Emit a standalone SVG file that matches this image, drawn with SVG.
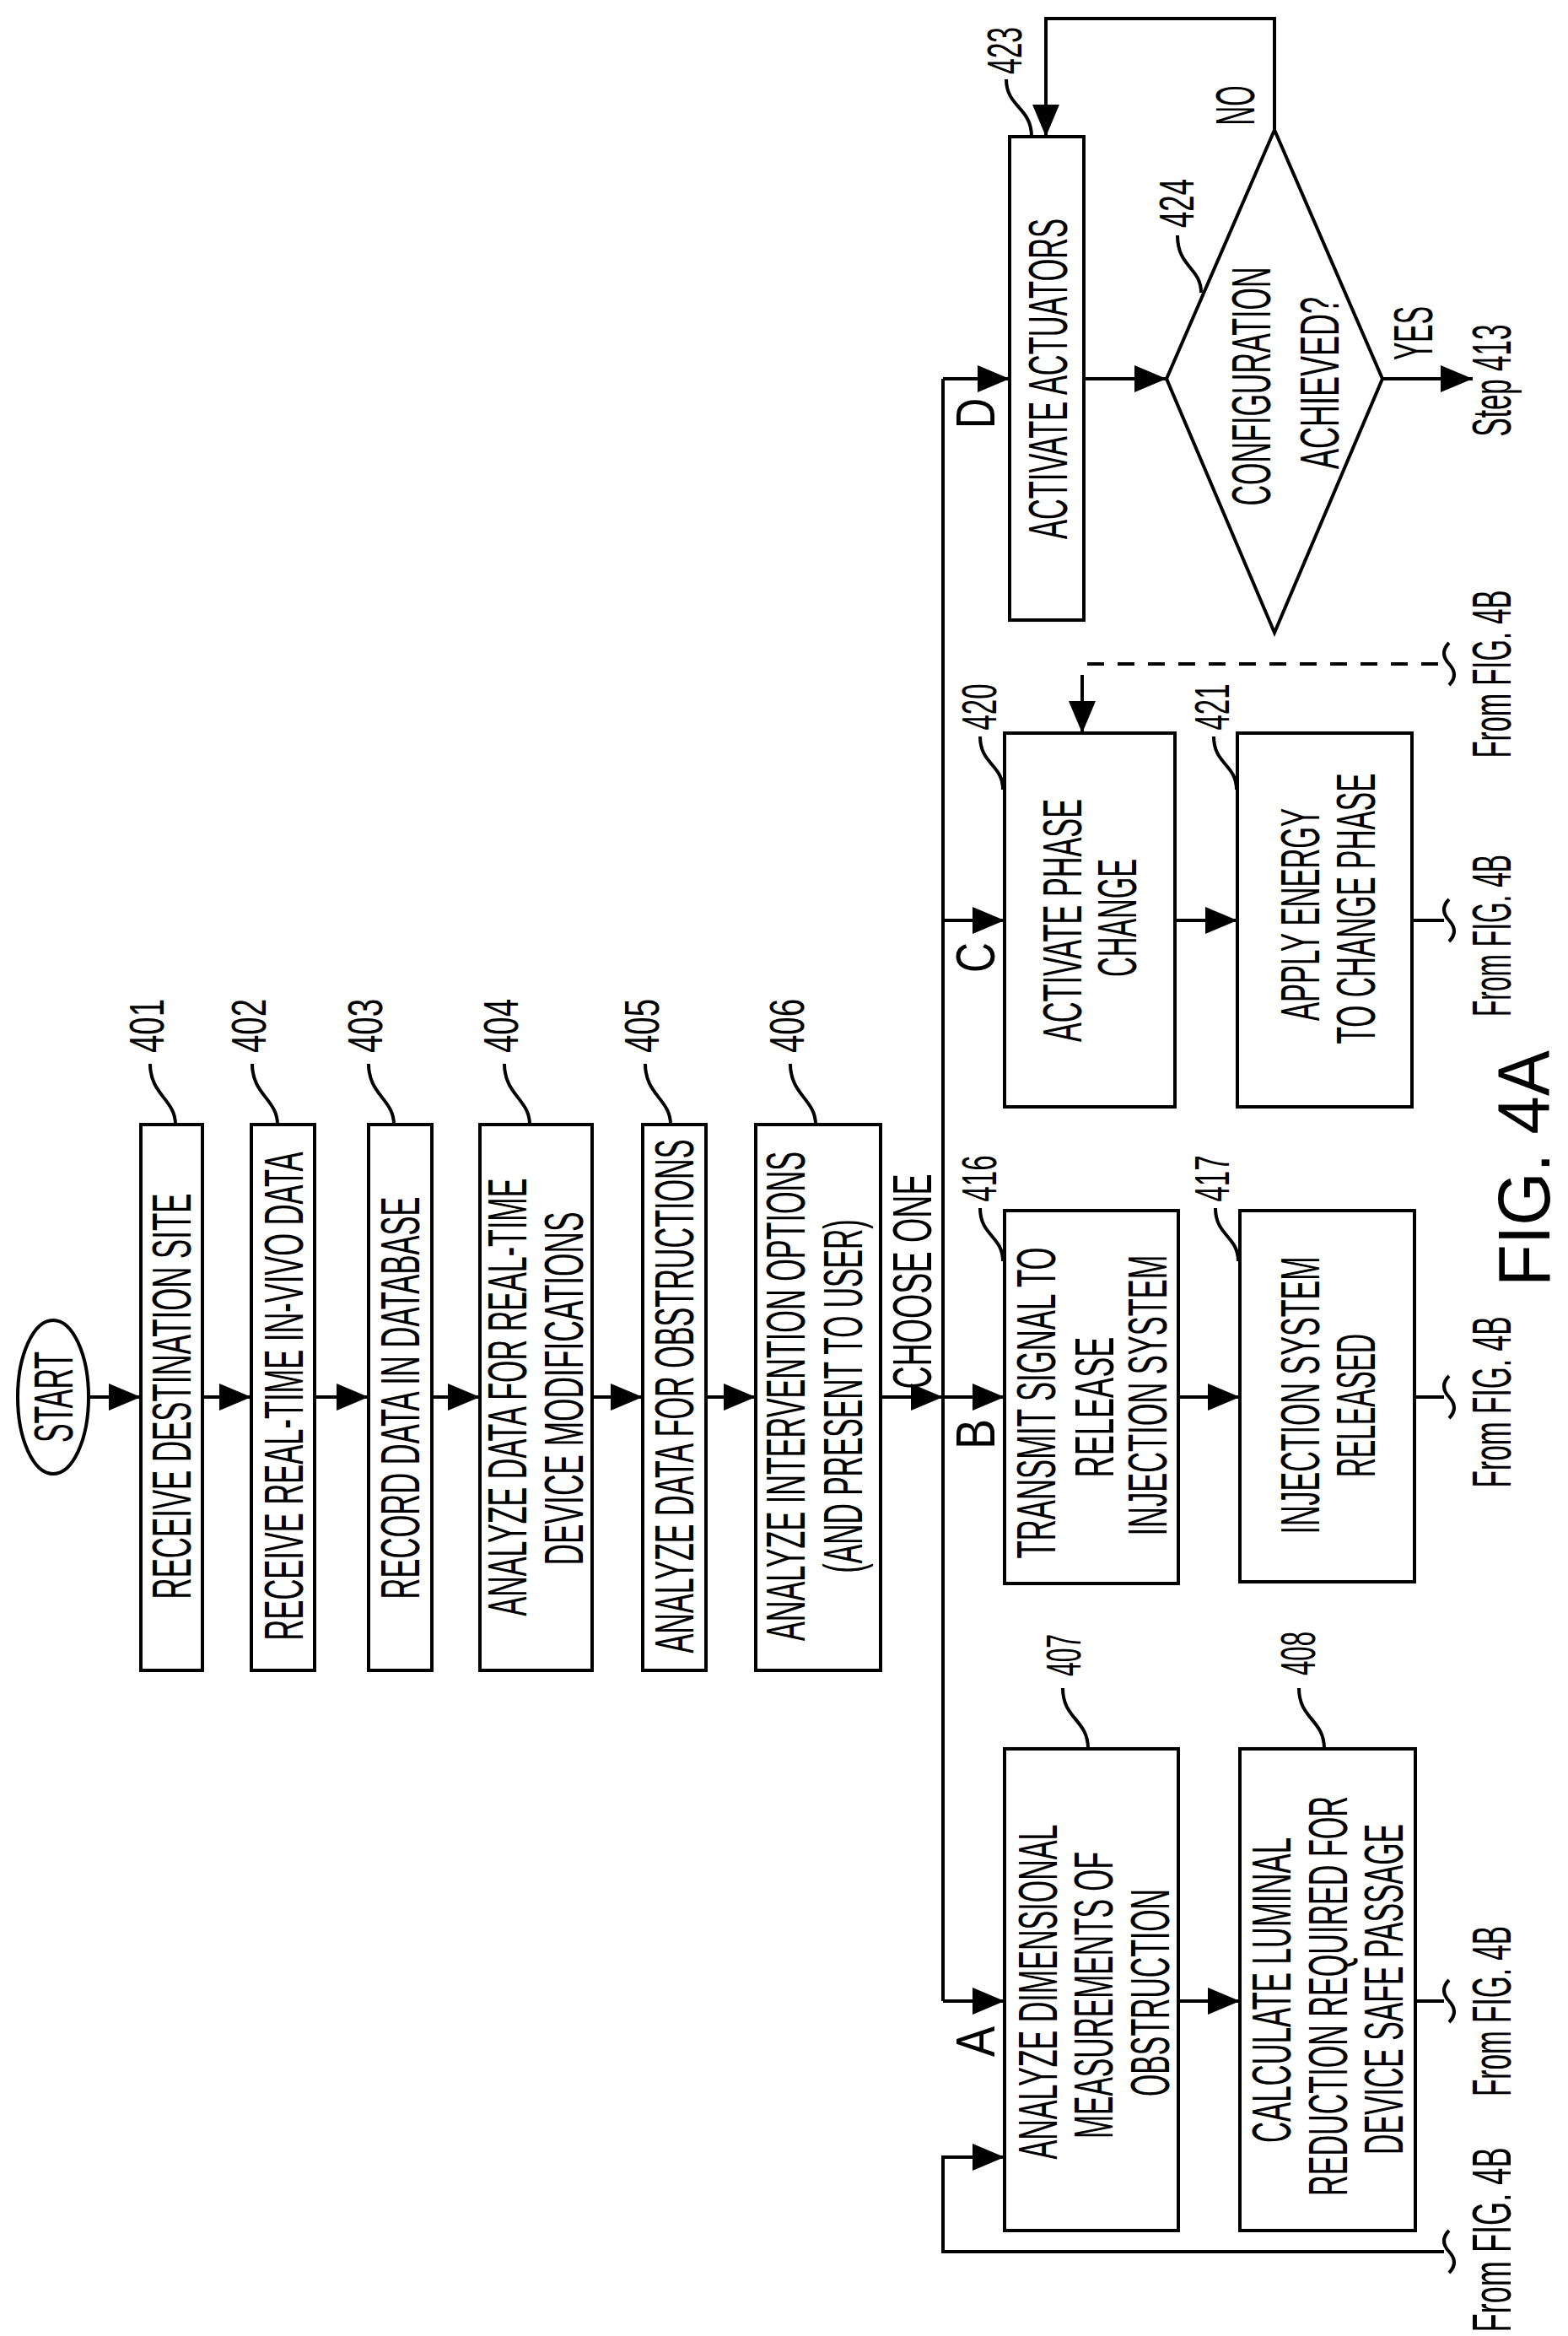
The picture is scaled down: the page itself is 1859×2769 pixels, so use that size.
<svg xmlns="http://www.w3.org/2000/svg" width="1859" height="2769" viewBox="0 0 1859 2769">
<style>
.t{font-family:"Liberation Sans",Arial,sans-serif;text-anchor:middle;fill:#000;font-size:64px}
.l{font-size:58px}
.b{fill:#fff;stroke:#000;stroke-width:4}
.c{fill:none;stroke:#000;stroke-width:4}
.a{marker-end:url(#ah)}
.d{stroke-dasharray:20 16}
</style>
<defs>
<marker id="ah" markerUnits="userSpaceOnUse" markerWidth="40" markerHeight="34" refX="38" refY="16" orient="auto"><path d="M0,0 L38,16 L0,32 z" fill="#000"/></marker>
</defs>
<rect width="1859" height="2769" fill="#fff"/>
<g id="connectors">
<path class="c a" d="M105,1656 H167"/>
<path class="c a" d="M240,1656 H298"/>
<path class="c a" d="M373,1656 H437"/>
<path class="c a" d="M512,1656 H569"/>
<path class="c a" d="M702,1656 H762"/>
<path class="c a" d="M837,1656 H896"/>
<path class="c a" d="M1044,1656 H1118"/>
<path class="c" d="M1118,449 V2372"/>
<path class="c a" d="M1118,449 H1197"/>
<path class="c a" d="M1118,1091 H1191"/>
<path class="c a" d="M1118,1656 H1191"/>
<path class="c a" d="M1118,2372 H1191"/>
<path class="c a" d="M1285,449 H1383"/>
<path class="c a" d="M1639,449 H1746"/>
<path class="c a" d="M1511,154 V22 H1240 V162"/>
<path class="c a" d="M1393,1091 H1467"/>
<path class="c" d="M1674,1091 H1712"/>
<path class="c d" d="M1705,787 H1283"/>
<path class="c a" d="M1283,800 V869"/>
<path class="c a" d="M1397,1656 H1470"/>
<path class="c" d="M1677,1656 H1712"/>
<path class="c a" d="M1397,2372 H1470"/>
<path class="c" d="M1678,2372 H1712"/>
<path class="c a" d="M1712,2669 H1118 V2557 H1191"/>
<path class="c" d="M1718,762 q-12,12 0,25 t0,25"/>
<path class="c" d="M1718,1066 q-12,12 0,25 t0,25"/>
<path class="c" d="M1718,1631 q-12,12 0,25 t0,25"/>
<path class="c" d="M1718,2347 q-12,12 0,25 t0,25"/>
<path class="c" d="M1718,2644 q-12,12 0,25 t0,25"/>
</g>
<g id="start"><ellipse class="b" cx="63" cy="1656" rx="42" ry="91"/><text class="t" transform="translate(63,1656) rotate(-90)" y="23" textLength="108" lengthAdjust="spacingAndGlyphs">START</text></g>
<g id="n401"><rect class="b" x="167" y="1333" width="73" height="647"/><text class="t" transform="translate(203,1655) rotate(-90)" y="23" textLength="481" lengthAdjust="spacingAndGlyphs">RECEIVE DESTINATION  SITE</text>
<path class="c" d="M208,1333 c0,-30 -30,-35 -30,-72"/><text class="t l" transform="translate(173,1216) rotate(-90)" y="21" textLength="64" lengthAdjust="spacingAndGlyphs">401</text></g>
<g id="n402"><rect class="b" x="298" y="1333" width="75" height="647"/><text class="t" transform="translate(336,1655) rotate(-90)" y="23" textLength="579" lengthAdjust="spacingAndGlyphs">RECEIVE REAL-TIME IN-VIVO DATA</text>
<path class="c" d="M329,1333 c0,-30 -30,-35 -30,-72"/><text class="t l" transform="translate(294,1216) rotate(-90)" y="21" textLength="64" lengthAdjust="spacingAndGlyphs">402</text></g>
<g id="n403"><rect class="b" x="437" y="1333" width="75" height="647"/><text class="t" transform="translate(474,1657) rotate(-90)" y="23" textLength="477" lengthAdjust="spacingAndGlyphs">RECORD DATA IN DATABASE</text>
<path class="c" d="M467,1333 c0,-30 -30,-35 -30,-72"/><text class="t l" transform="translate(432,1216) rotate(-90)" y="21" textLength="64" lengthAdjust="spacingAndGlyphs">403</text></g>
<g id="n404"><rect class="b" x="569" y="1333" width="133" height="647"/><text class="t" transform="translate(601,1656) rotate(-90)" y="23" textLength="519" lengthAdjust="spacingAndGlyphs">ANALYZE DATA FOR REAL-TIME</text><text class="t" transform="translate(668,1646) rotate(-90)" y="23" textLength="419" lengthAdjust="spacingAndGlyphs">DEVICE MODIFICATIONS</text>
<path class="c" d="M628,1333 c0,-30 -30,-35 -30,-72"/><text class="t l" transform="translate(593,1216) rotate(-90)" y="21" textLength="64" lengthAdjust="spacingAndGlyphs">404</text></g>
<g id="n405"><rect class="b" x="762" y="1333" width="75" height="647"/><text class="t" transform="translate(799,1655) rotate(-90)" y="23" textLength="609" lengthAdjust="spacingAndGlyphs">ANALYZE DATA FOR OBSTRUCTIONS</text>
<path class="c" d="M795,1333 c0,-30 -30,-35 -30,-72"/><text class="t l" transform="translate(760,1216) rotate(-90)" y="21" textLength="64" lengthAdjust="spacingAndGlyphs">405</text></g>
<g id="n406"><rect class="b" x="896" y="1333" width="148" height="647"/><text class="t" transform="translate(931,1655) rotate(-90)" y="23" textLength="580" lengthAdjust="spacingAndGlyphs">ANALYZE INTERVENTION OPTIONS</text><text class="t" transform="translate(999,1655) rotate(-90)" y="23" textLength="419" lengthAdjust="spacingAndGlyphs">(AND PRESENT TO USER)</text>
<path class="c" d="M967,1333 c0,-30 -30,-35 -30,-72"/><text class="t l" transform="translate(932,1216) rotate(-90)" y="21" textLength="64" lengthAdjust="spacingAndGlyphs">406</text></g>
<g id="choose"><text class="t" transform="translate(1081,1519) rotate(-90)" y="23" textLength="255" lengthAdjust="spacingAndGlyphs">CHOOSE ONE</text></g>
<g id="labels-abcd">
<text class="t" transform="translate(1156,490) rotate(-90)" y="23" textLength="36" lengthAdjust="spacingAndGlyphs">D</text>
<text class="t" transform="translate(1156,1135) rotate(-90)" y="23" textLength="36" lengthAdjust="spacingAndGlyphs">C</text>
<text class="t" transform="translate(1156,1700) rotate(-90)" y="23" textLength="36" lengthAdjust="spacingAndGlyphs">B</text>
<text class="t" transform="translate(1156,2420) rotate(-90)" y="23" textLength="36" lengthAdjust="spacingAndGlyphs">A</text>
</g>
<g id="n423"><rect class="b" x="1197" y="162" width="88" height="573"/><text class="t" transform="translate(1242,449) rotate(-90)" y="23" textLength="380" lengthAdjust="spacingAndGlyphs">ACTIVATE ACTUATORS</text>
<path class="c" d="M1223,162 c0,-35 -30,-35 -30,-68"/><text class="t l" transform="translate(1190,60) rotate(-90)" y="21" textLength="56" lengthAdjust="spacingAndGlyphs">423</text></g>
<g id="n424"><path class="b" d="M1511,154 L1639,449 L1511,750 L1383,449 z" stroke-width="3"/><text class="t" transform="translate(1483,458) rotate(-90)" y="23" textLength="283" lengthAdjust="spacingAndGlyphs">CONFIGURATION</text><text class="t" transform="translate(1564,454) rotate(-90)" y="23" textLength="204" lengthAdjust="spacingAndGlyphs">ACHIEVED?</text>
<path class="c" d="M1424,347 c0,-30 -28,-30 -28,-68"/><text class="t l" transform="translate(1394,241) rotate(-90)" y="21" textLength="58" lengthAdjust="spacingAndGlyphs">424</text>
<text class="t" transform="translate(1464,125) rotate(-90)" y="23" textLength="47" lengthAdjust="spacingAndGlyphs">NO</text>
<text class="t" transform="translate(1675,395) rotate(-90)" y="23" textLength="64" lengthAdjust="spacingAndGlyphs">YES</text>
<text class="t" transform="translate(1768,451) rotate(-90)" y="23" textLength="133" lengthAdjust="spacingAndGlyphs">Step 413</text></g>
<g id="n420"><rect class="b" x="1191" y="869" width="202" height="443"/><text class="t" transform="translate(1259,1091) rotate(-90)" y="23" textLength="288" lengthAdjust="spacingAndGlyphs">ACTIVATE PHASE</text><text class="t" transform="translate(1324,1088) rotate(-90)" y="23" textLength="140" lengthAdjust="spacingAndGlyphs">CHANGE</text>
<path class="c" d="M1189,936 c0,-30 -27,-30 -27,-63"/><text class="t l" transform="translate(1160,838) rotate(-90)" y="21" textLength="55" lengthAdjust="spacingAndGlyphs">420</text></g>
<g id="n421"><rect class="b" x="1467" y="869" width="207" height="443"/><text class="t" transform="translate(1541,1084) rotate(-90)" y="23" textLength="252" lengthAdjust="spacingAndGlyphs">APPLY ENERGY</text><text class="t" transform="translate(1607,1077) rotate(-90)" y="23" textLength="321" lengthAdjust="spacingAndGlyphs">TO CHANGE PHASE</text>
<path class="c" d="M1466,936 c0,-30 -27,-30 -27,-63"/><text class="t l" transform="translate(1436,838) rotate(-90)" y="21" textLength="55" lengthAdjust="spacingAndGlyphs">421</text></g>
<g id="n416"><rect class="b" x="1191" y="1435" width="206" height="442"/><text class="t" transform="translate(1228,1663) rotate(-90)" y="23" textLength="369" lengthAdjust="spacingAndGlyphs">TRANSMIT SIGNAL TO</text><text class="t" transform="translate(1297,1668) rotate(-90)" y="23" textLength="167" lengthAdjust="spacingAndGlyphs">RELEASE</text><text class="t" transform="translate(1360,1654) rotate(-90)" y="23" textLength="333" lengthAdjust="spacingAndGlyphs">INJECTION SYSTEM</text>
<path class="c" d="M1189,1495 c0,-30 -27,-30 -27,-63"/><text class="t l" transform="translate(1160,1397) rotate(-90)" y="21" textLength="55" lengthAdjust="spacingAndGlyphs">416</text></g>
<g id="n417"><rect class="b" x="1470" y="1435" width="207" height="440"/><text class="t" transform="translate(1541,1654) rotate(-90)" y="23" textLength="329" lengthAdjust="spacingAndGlyphs">INJECTION SYSTEM</text><text class="t" transform="translate(1607,1666) rotate(-90)" y="23" textLength="170" lengthAdjust="spacingAndGlyphs">RELEASED</text>
<path class="c" d="M1468,1495 c0,-30 -27,-30 -27,-63"/><text class="t l" transform="translate(1436,1397) rotate(-90)" y="21" textLength="55" lengthAdjust="spacingAndGlyphs">417</text></g>
<g id="n407"><rect class="b" x="1191" y="2073" width="206" height="571"/><text class="t" transform="translate(1230,2361) rotate(-90)" y="23" textLength="397" lengthAdjust="spacingAndGlyphs">ANALYZE DIMENSIONAL</text><text class="t" transform="translate(1296,2365) rotate(-90)" y="23" textLength="340" lengthAdjust="spacingAndGlyphs">MEASUREMENTS OF</text><text class="t" transform="translate(1363,2362) rotate(-90)" y="23" textLength="246" lengthAdjust="spacingAndGlyphs">OBSTRUCTION</text>
<path class="c" d="M1290,2073 c0,-35 -30,-35 -30,-72"/><text class="t l" transform="translate(1260,1962) rotate(-90)" y="21" textLength="50" lengthAdjust="spacingAndGlyphs">407</text></g>
<g id="n408"><rect class="b" x="1470" y="2073" width="208" height="571"/><text class="t" transform="translate(1507,2359) rotate(-90)" y="23" textLength="362" lengthAdjust="spacingAndGlyphs">CALCULATE LUMINAL</text><text class="t" transform="translate(1574,2366) rotate(-90)" y="23" textLength="474" lengthAdjust="spacingAndGlyphs">REDUCTION REQUIRED FOR</text><text class="t" transform="translate(1640,2358) rotate(-90)" y="23" textLength="392" lengthAdjust="spacingAndGlyphs">DEVICE SAFE PASSAGE</text>
<path class="c" d="M1570,2073 c0,-35 -30,-35 -30,-72"/><text class="t l" transform="translate(1538,1960) rotate(-90)" y="21" textLength="52" lengthAdjust="spacingAndGlyphs">408</text></g>
<g id="from-labels">
<text class="t" transform="translate(1768,799) rotate(-90)" y="23" textLength="199" lengthAdjust="spacingAndGlyphs">From FIG. 4B</text>
<text class="t" transform="translate(1768,1109) rotate(-90)" y="23" textLength="192" lengthAdjust="spacingAndGlyphs">From FIG. 4B</text>
<text class="t" transform="translate(1768,1662) rotate(-90)" y="23" textLength="203" lengthAdjust="spacingAndGlyphs">From FIG. 4B</text>
<text class="t" transform="translate(1768,2384) rotate(-90)" y="23" textLength="202" lengthAdjust="spacingAndGlyphs">From FIG. 4B</text>
<text class="t" transform="translate(1768,2655) rotate(-90)" y="23" textLength="219" lengthAdjust="spacingAndGlyphs">From FIG. 4B</text>
</g>
<g id="title"><text class="t" style="font-size:88px" transform="translate(1805,1385) rotate(-90)" y="32" textLength="280" lengthAdjust="spacingAndGlyphs">FIG. 4A</text></g>
</svg>
